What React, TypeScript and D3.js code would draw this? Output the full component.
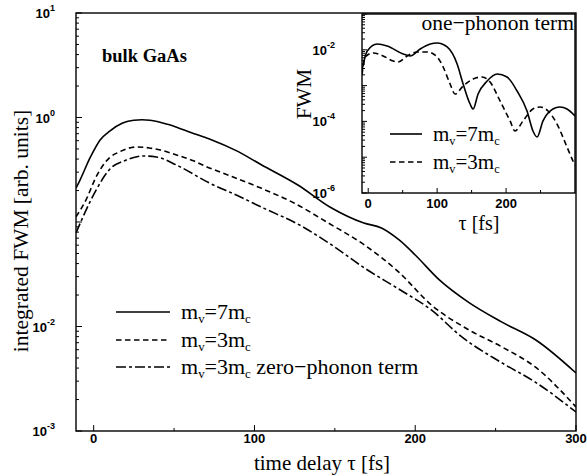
import React from "react";
import * as d3 from "d3";

// main panel: integrated FWM vs time delay (fs)
const solidTau = [-11, -8.5, -2, 4, 10, 18, 25, 30, 35, 46, 52, 60, 72, 89, 104, 127, 148, 168, 179, 190, 200, 215, 233, 254, 275, 300];
const solidFwm = [0.211, 0.252, 0.419, 0.61, 0.741, 0.885, 0.942, 0.951, 0.942, 0.861, 0.804, 0.724, 0.624, 0.479, 0.355, 0.226, 0.136, 0.0977, 0.0877, 0.0673, 0.0483, 0.0279, 0.0171, 0.011, 0.00743, 0.00359];

const dashTau = [-11, -4.75, 1.5, 9.6, 15.9, 26.5, 34.6, 41.5, 51.5, 62, 72, 83.4, 104, 124.6, 146, 168.4, 189.6, 210, 233.4, 254, 274.6, 300];
const dashFwm = [0.112, 0.163, 0.27, 0.409, 0.468, 0.522, 0.511, 0.489, 0.438, 0.385, 0.329, 0.282, 0.211, 0.152, 0.0977, 0.0603, 0.0333, 0.0161, 0.00927, 0.00637, 0.0041, 0.0017];

const zeroTau = [-11, -4.75, 1.5, 9.6, 20.25, 30.9, 39, 51.5, 72, 89, 106, 127, 148, 168.4, 189.6, 210, 229, 254, 274.6, 300];
const zeroFwm = [0.0785, 0.13, 0.202, 0.315, 0.392, 0.428, 0.419, 0.351, 0.236, 0.18, 0.135, 0.0955, 0.0603, 0.0363, 0.0229, 0.0144, 0.00794, 0.00448, 0.00294, 0.00152];

// inset: one-phonon term
const inSolidTau = [-9, -1.4, 13, 27.5, 50.7, 61, 75.4, 90, 100, 114.5, 129, 137.7, 147.8, 152.2, 159.4, 172.5, 187, 201.4, 216, 230.4, 239, 245, 253.6, 263.8, 278.3, 288.4, 300];
const inSolidFwm = [2.73e-3, 9.25e-3, 1.45e-2, 1.28e-2, 7.64e-3, 6.71e-3, 1.05e-2, 1.45e-2, 1.55e-2, 1.2e-2, 4.01e-3, 1.11e-3, 3.06e-4, 2.22e-4, 5.82e-4, 1.34e-3, 2.11e-3, 1.74e-3, 7.06e-4, 1.95e-4, 5.4e-5, 3.66e-5, 1.03e-4, 1.95e-4, 2.52e-4, 2.22e-4, 1.42e-4];

const inDashTau = [-9, -4.3, 7.2, 21.7, 36.2, 43.5, 56.5, 71, 85.5, 100, 108.7, 118.8, 126, 137.7, 152.2, 165.2, 176.8, 191.3, 205.8, 213, 224.6, 239, 249.3, 260.9, 273.9, 288.4, 297.1, 300];
const inDashFwm = [2.0e-3, 6.3e-3, 8.15e-3, 6.71e-3, 4.86e-3, 4.56e-3, 6.71e-3, 8.69e-3, 8.69e-3, 6.3e-3, 3.31e-3, 1.11e-3, 5.82e-4, 9.75e-4, 1.53e-3, 1.74e-3, 1.26e-3, 3.72e-4, 1.03e-4, 5.4e-5, 1.03e-4, 2.22e-4, 2.52e-4, 1.95e-4, 8.45e-5, 1.93e-5, 7.83e-6, 6.0e-6];

const mainXTicks = [0, 100, 200, 300];
const mainXMinor = [50, 150, 250];
const mainYLabels = [1, 0, -2, -3];
const inXTicks = [0, 100, 200];
const inXMinor = [50, 150, 250];
const inYLabels = [-2, -4, -6];

const SERIF = "'Liberation Serif', 'Times New Roman', serif";
const SANS = "'Liberation Sans', Arial, sans-serif";

const zip = (t: number[], v: number[]) => t.map((d, i) => [d, v[i]] as [number, number]);

function logMinor(lo: number, hi: number) {
  const out: number[] = [];
  for (let e = lo; e < hi; e++) for (let m = 2; m <= 9; m++) out.push(m * Math.pow(10, e));
  return out;
}

function Legend({ x, y, len, dash, label, size }: any) {
  const sub = size * 0.58;
  return (
    <g>
      <line x1={x} x2={x + len} y1={y} y2={y} stroke="#000" strokeWidth={1.6} strokeDasharray={dash} />
      <text x={x + len + 11} y={y + 7} fontFamily={SERIF} fontSize={size}>
        m<tspan fontSize={sub} dy={4}>v</tspan>
        <tspan dy={-4}>={label}m</tspan>
        <tspan fontSize={sub} dy={4}>c</tspan>
      </text>
    </g>
  );
}

export default function App() {
  const x = d3.scaleLinear().domain([-11, 300]).range([76, 576]);
  const y = d3.scaleLog().domain([1e-3, 1e1]).range([431, 13]);
  const xi = d3.scaleLinear().domain([-9, 300]).range([362, 575]);
  const yi = d3.scaleLog().domain([1e-6, 1e-1]).range([193, 14]);

  const line = d3.line<[number, number]>().x((d) => x(d[0])).y((d) => y(d[1])).curve(d3.curveMonotoneX);
  const lineIn = d3.line<[number, number]>().x((d) => xi(d[0])).y((d) => yi(d[1])).curve(d3.curveMonotoneX);

  const dashed = "5.5,3.5";
  const dashDot = "10,3,3,3";

  return (
    <svg width={587} height={476} style={{ position: "absolute", left: 0, top: 0, background: "#fff" }}>
      <defs>
        <clipPath id="mainClip">
          <rect x={76} y={13} width={500} height={418} />
        </clipPath>
        <clipPath id="inClip">
          <rect x={362} y={14} width={213} height={179} />
        </clipPath>
      </defs>

      {/* main curves */}
      <g clipPath="url(#mainClip)" fill="none" stroke="#000" strokeWidth={1.6}>
        <path d={line(zip(solidTau, solidFwm)) || ""} />
        <path d={line(zip(dashTau, dashFwm)) || ""} strokeDasharray={dashed} />
        <path d={line(zip(zeroTau, zeroFwm)) || ""} strokeDasharray={dashDot} />
      </g>

      {/* main frame and ticks */}
      <rect x={76} y={13} width={500} height={418} fill="none" stroke="#000" strokeWidth={1.4} />
      {mainXTicks.map((t) => (
        <g key={"mx" + t}>
          <line x1={x(t)} x2={x(t)} y1={431} y2={425} stroke="#000" />
          <text x={x(t)} y={443} textAnchor="middle" fontFamily={SANS} fontSize={13} fontWeight="bold">{t}</text>
        </g>
      ))}
      {mainXMinor.map((t) => (
        <line key={"mxm" + t} x1={x(t)} x2={x(t)} y1={431} y2={428} stroke="#000" />
      ))}
      {[1e-3, 1e-2, 1e-1, 1e0, 1e1].map((v) => (
        <line key={"myt" + v} x1={76} x2={82} y1={y(v)} y2={y(v)} stroke="#000" />
      ))}
      {logMinor(-3, 1).map((v, i) => (
        <line key={"mym" + i} x1={76} x2={79} y1={y(v)} y2={y(v)} stroke="#000" />
      ))}
      {mainYLabels.map((e) => (
        <text key={"myl" + e} x={55} y={y(Math.pow(10, e)) + 5} textAnchor="end" fontFamily={SANS} fontSize={13} fontWeight="bold">
          10<tspan fontSize={9} dy={-7}>{e}</tspan>
        </text>
      ))}

      <text x={322} y={470} textAnchor="middle" fontFamily={SERIF} fontSize={21}>time delay τ [fs]</text>
      <text transform="translate(28,231) rotate(-90)" textAnchor="middle" fontFamily={SERIF} fontSize={21.5}>
        integrated FWM [arb. units]
      </text>
      <text x={102} y={62} fontFamily={SERIF} fontSize={18.5} fontWeight="bold">bulk GaAs</text>

      <Legend x={116} y={312} len={54} dash={null} size={22} label="7" />
      <Legend x={116} y={340} len={54} dash={dashed} size={22} label="3" />
      <g>
        <line x1={116} x2={170} y1={367} y2={367} stroke="#000" strokeWidth={1.6} strokeDasharray={dashDot} />
        <text x={181} y={374} fontFamily={SERIF} fontSize={22}>
          m<tspan fontSize={12.8} dy={4}>v</tspan>
          <tspan dy={-4}>=3m</tspan>
          <tspan fontSize={12.8} dy={4}>c</tspan>
          <tspan dy={-4}> zero−phonon term</tspan>
        </text>
      </g>

      {/* inset */}
      <rect x={362} y={14} width={213} height={179} fill="#fff" />
      <g clipPath="url(#inClip)" fill="none" stroke="#000" strokeWidth={1.6}>
        <path d={lineIn(zip(inSolidTau, inSolidFwm)) || ""} />
        <path d={lineIn(zip(inDashTau, inDashFwm)) || ""} strokeDasharray={dashed} />
      </g>
      <rect x={362} y={14} width={213} height={179} fill="none" stroke="#000" strokeWidth={1.4} />
      {inXTicks.map((t) => (
        <g key={"ix" + t}>
          <line x1={xi(t)} x2={xi(t)} y1={193} y2={188} stroke="#000" />
          <text x={xi(t)} y={208} textAnchor="middle" fontFamily={SANS} fontSize={13} fontWeight="bold">{t}</text>
        </g>
      ))}
      {inXMinor.map((t) => (
        <line key={"ixm" + t} x1={xi(t)} x2={xi(t)} y1={193} y2={190} stroke="#000" />
      ))}
      {[1e-6, 1e-5, 1e-4, 1e-3, 1e-2, 1e-1].map((v) => (
        <line key={"iyt" + v} x1={362} x2={367} y1={yi(v)} y2={yi(v)} stroke="#000" />
      ))}
      {logMinor(-6, -1).map((v, i) => (
        <line key={"iym" + i} x1={362} x2={365} y1={yi(v)} y2={yi(v)} stroke="#000" />
      ))}
      {inYLabels.map((e) => (
        <text key={"iyl" + e} x={335} y={yi(Math.pow(10, e)) + 5} textAnchor="end" fontFamily={SANS} fontSize={13} fontWeight="bold">
          10<tspan fontSize={9} dy={-7}>{e}</tspan>
        </text>
      ))}
      <text transform="translate(311,94) rotate(-90)" textAnchor="middle" fontFamily={SERIF} fontSize={21}>FWM</text>
      <text x={479} y={230} textAnchor="middle" fontFamily={SERIF} fontSize={20}>τ [fs]</text>
      <text x={574} y={30} textAnchor="end" fontFamily={SERIF} fontSize={21.5}>one−phonon term</text>

      <Legend x={390} y={134} len={32} dash={null} size={21} label="7" />
      <Legend x={390} y={162} len={32} dash={dashed} size={21} label="3" />
    </svg>
  );
}
